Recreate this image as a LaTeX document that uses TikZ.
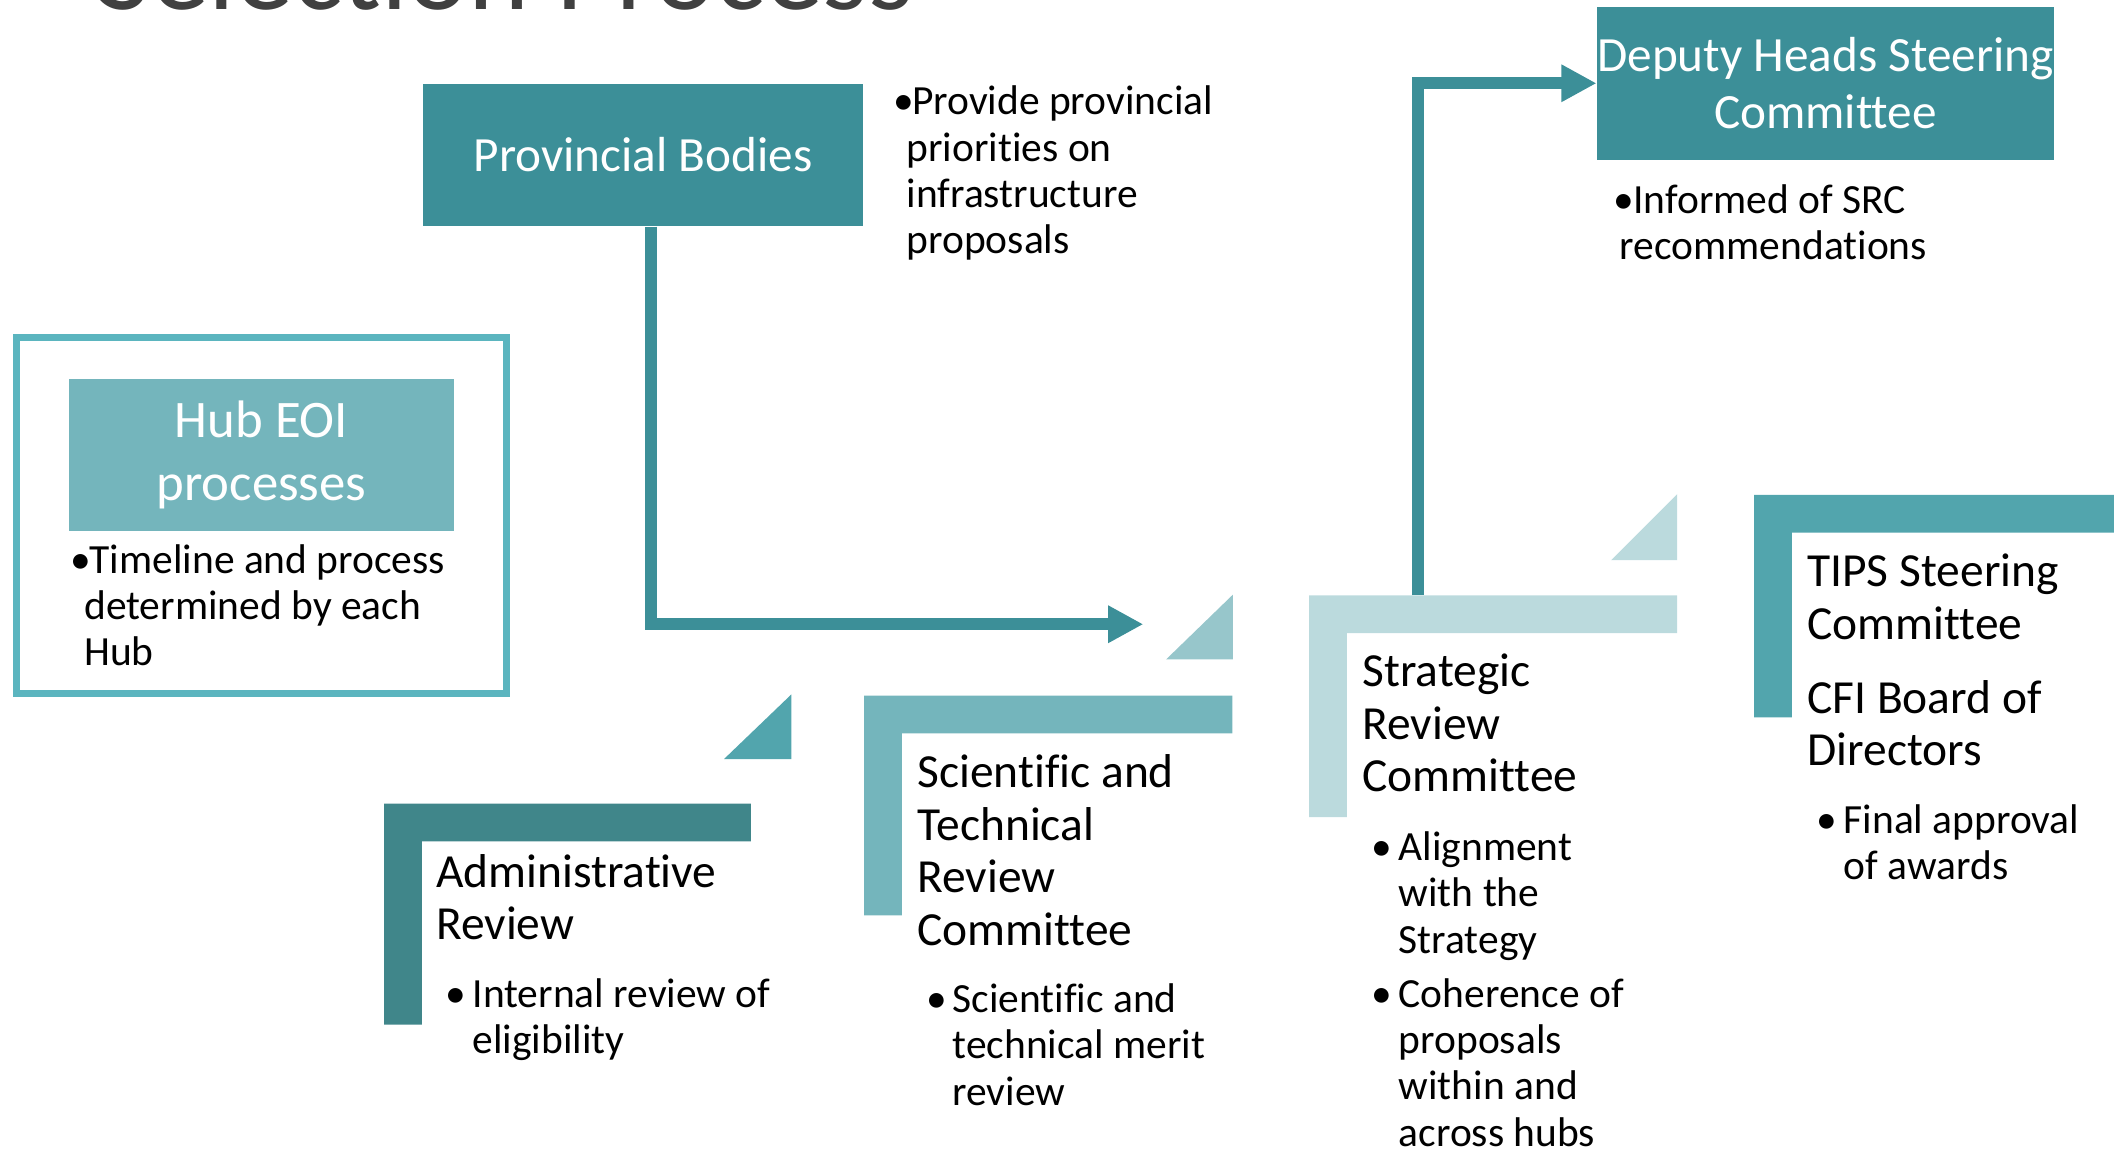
\documentclass[tikz,border=0pt]{standalone}
\usepackage{fontspec}
\setmainfont{Carlito}[Ligatures=NoCommon]
\usepackage{xcolor}
\usetikzlibrary{backgrounds}
\usetikzlibrary{arrows.meta}
\newlength{\px}
\setlength{\px}{0.01348cm}
\definecolor{tealdeep}{HTML}{3C8F98}
\definecolor{tealadm}{HTML}{40868A}
\definecolor{tealmid}{HTML}{52A5AD}
\definecolor{tealframe}{HTML}{5BB5BF}
\definecolor{teallight}{HTML}{74B5BC}
\definecolor{tealpale}{HTML}{97C6CB}
\definecolor{tealmist}{HTML}{BBDADD}
\definecolor{titlegray}{HTML}{404040}
\newcommand{\lbracket}[5]{\fill[#1] (#2,#3) -- (#4,#3) -- (#4,#3+28)
  -- (#2+28,#3+28) -- (#2+28,#5) -- (#2,#5) -- cycle;}
\newcommand{\cornertri}[5]{\fill[#1] (#2,#5) -- (#3,#5) -- (#3,#4) -- cycle;}
\newcommand{\blt}[3]{\makebox[#1][l]{\textbullet}%
  \parbox[t]{330\px}{\raggedright\hspace*{#2}#3}}
\newcommand{\hdl}[1]{\parbox[t]{330\px}{\raggedright #1}}
\tikzset{
  headbox/.style={fill=tealdeep, text=white, inner sep=0pt, align=center,
    font=\fontsize{14}{16.2}\selectfont},
  hubbox/.style={fill=teallight, text=white, inner sep=0pt, align=center,
    font=\fontsize{15}{18}\selectfont},
  flow/.style={draw=tealdeep, line width=3.45pt, line join=miter,
    -{Triangle[length=10pt, width=10pt]}},
  headtxt/.style={anchor=base west, inner sep=0pt,
    font=\fontsize{13.5}{15}\selectfont},
  bultxt/.style={anchor=base west, inner sep=0pt,
    font=\fontsize{11.8}{13.2}\selectfont},
}

\begin{document}
\begin{tikzpicture}[x=0.01348cm, y=-0.01348cm]
    \useasboundingbox (0,0) rectangle (1568,855);
    \clip (0,0) rectangle (1568,855);

    \node (title) at (72,7) [anchor=base west, inner sep=0pt, text=titlegray,
      font=\fontsize{33}{40}\selectfont] {Selection Process};

    \node (prov) at (477,115) [headbox, minimum width=326\px,
      minimum height=105\px] {Provincial Bodies};
    \node (provtxt) at (662,85) [bultxt] {\blt{10\px}{4\px}{Provide provincial\\
      priorities on\\ infrastructure\\ proposals}};

    \node (hub) at (194,337.5) [hubbox, minimum width=286\px,
      minimum height=113\px] {Hub EOI\\processes};
    \node (hubtxt) at (52,425) [bultxt] {\blt{10\px}{4\px}{Timeline and process\\
      determined by each\\ Hub}};

    \node (dep) at (1354,61.75) [headbox, minimum width=338\px,
      minimum height=113.5\px] {Deputy Heads Steering\\Committee};
    \node (deptxt) at (1196,158) [bultxt] {\blt{5\px}{10\px}{Informed of SRC\\
      recommendations}};

    \node (admhead) at (323,658) [headtxt] {\hdl{Administrative\\ Review}};
    \node (admtxt) at (330,747) [bultxt] {\blt{20\px}{0pt}{Internal review of\\
      eligibility}};

    \node (sthead) at (680,584) [headtxt] {\hdl{Scientific and\\ Technical\\
      Review\\ Committee}};
    \node (sttxt) at (687,751) [bultxt] {\blt{19\px}{0pt}{Scientific and\\
      technical merit\\ review}};

    \node (srchead) at (1010,509) [headtxt] {\hdl{Strategic\\ Review\\ Committee}};
    \node (srctxta) at (1017,638) [bultxt] {\blt{20\px}{0pt}{Alignment\\ with the\\
      Strategy}};
    \node (srctxtb) at (1017,747) [bultxt] {\blt{20\px}{0pt}{Coherence of\\
      proposals\\ within and\\ across hubs}};

    \node (tipshead) at (1340,435) [headtxt] {\hdl{TIPS Steering\\ Committee}};
    \node (cfihead) at (1340,529) [headtxt] {\hdl{CFI Board of\\ Directors}};
    \node (tipstxt) at (1347,618) [bultxt] {\blt{20\px}{0pt}{Final approval\\
      of awards}};

    \coordinate (stin) at (848,463);
    \coordinate (srctop) at (1051.5,441.5);
    \draw[flow] ([xshift=6\px]prov.south) |- (stin);
    \draw[flow] (srctop) |- (dep.west);

    \begin{scope}[on background layer]
      \draw[tealframe, line width=2.07pt] (12.5,250.5) rectangle (375.5,514.5);

      \lbracket{tealadm}{285}{596}{557}{760}
      \lbracket{teallight}{641}{516}{914}{679}
      \lbracket{tealmist}{971}{441.5}{1244}{606}
      \lbracket{tealmid}{1301}{367}{1568}{532}

      \cornertri{tealmid}{537}{587}{515}{563}
      \cornertri{tealpale}{865}{914.5}{441}{489}
      \cornertri{tealmist}{1195}{1244}{366.5}{415.5}
    \end{scope}
\end{tikzpicture}
\end{document}
